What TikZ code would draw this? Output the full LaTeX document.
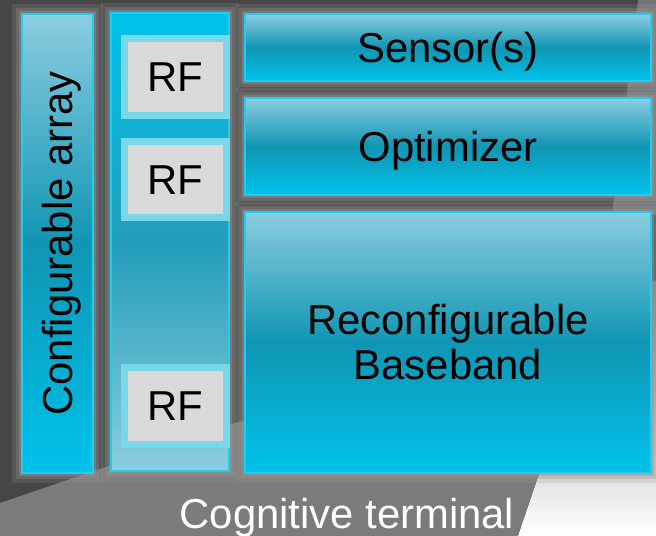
\documentclass[tikz,border=0pt]{standalone}
\usepackage{fontspec}
\setmainfont{Liberation Sans}
\usetikzlibrary{positioning}
\usetikzlibrary{fit}
\definecolor{backdrop}{HTML}{464646}
\definecolor{sheen}{HTML}{7B7B7B}
\definecolor{shade}{HTML}{5B5B5B}
\definecolor{halogray}{HTML}{959595}
\definecolor{edgecyan}{HTML}{19CFF2}
\definecolor{palecyan}{HTML}{8CCDE0}
\definecolor{deepcyan}{HTML}{1095B3}
\definecolor{brightcyan}{HTML}{00C2EA}
\definecolor{rfcyan}{HTML}{79D7EA}
\definecolor{rfgray}{HTML}{D9D9D9}
\tikzset{
	block/.style={
		rectangle,
		inner sep=0pt,
		draw=edgecyan,
		line width=0.05cm,
		preaction={draw=halogray, line width=0.4cm, draw opacity=.2},
		preaction={draw=halogray, line width=0.24cm, draw opacity=.3},
		preaction={draw=halogray, line width=0.12cm, draw opacity=.4}
	},
	downshade/.style={top color=palecyan, bottom color=brightcyan, middle color=deepcyan},
	upshade/.style={top color=brightcyan, bottom color=palecyan, middle color=deepcyan!85!palecyan},
	rf/.style={
		rectangle,
		inner sep=0pt,
		fill=rfgray,
		draw=rfcyan,
		line width=0.14cm
	},
	caption/.style={
		inner sep=0pt,
		align=center,
		text depth=0pt,
		font=\fontsize{23.8}{25.6}\selectfont
	}
}

\begin{document}
\begin{tikzpicture}[x=0.02cm, y=-0.02cm]
	\useasboundingbox (0,0) rectangle (656,536);
	\fill[backdrop] (0,0) rectangle (656,536);
	\fill[sheen] (0,503) -- (598,300) -- (518,536) -- (0,536) -- cycle;
	\fill[shade] (518,536) -- (598,300) -- (656,280) -- (656,536) -- cycle;
	\fill[sheen!85!backdrop] (638,0) -- (656,0) -- (656,215) -- (612,215) -- cycle;

	\node[block, downshade, fit={(22,14) (93,473)}] (array) {};
	\node[caption, rotate=90] (arraylbl) at (array.center) {Configurable array};

	\node[block, upshade, fit={(111,13) (229,471)}] (front) {};
	\node[rf, fit={(124.5,38.5) (226.5,116)}] (rfa) {};
	\node[rf, fit={(124.5,141.5) (226.5,218)}] (rfb) {};
	\node[rf, fit={(124.5,368) (226.5,445)}] (rfc) {};
	\node[caption] at (rfa.center) {RF};
	\node[caption] at (rfb.center) {RF};
	\node[caption] at (rfc.center) {RF};

	\node[block, downshade, fit={(245,14) (651,81)}] (sensor) {};
	\node[block, downshade, fit={(245,98) (651,195)}] (optim) {};
	\node[block, downshade, fit={(245,212) (651,473)}] (baseband) {};
	\node[caption] (sensorlbl) at (sensor.center) {Sensor(s)};
	\node[caption] (optimlbl) at (optim.center) {Optimizer};
	\node[caption, text depth=] (basebandlbl) at (baseband.center) {Reconfigurable\\Baseband};

	\node[caption, anchor=base, text=white] (terminal) at (347,529) {Cognitive terminal};
\end{tikzpicture}
\end{document}
